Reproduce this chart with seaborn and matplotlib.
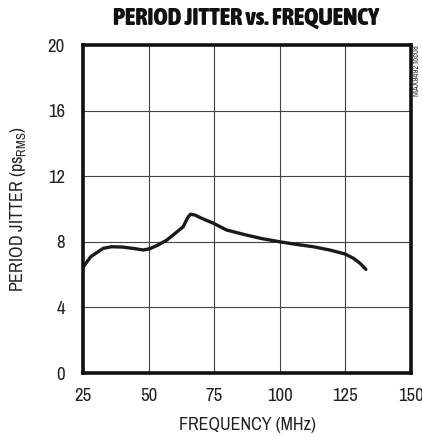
import pandas as pd
import matplotlib
matplotlib.use("Agg")
import matplotlib.pyplot as plt
from matplotlib import font_manager
import seaborn as sns

# Data
freq_mhz = [25, 28, 32.7, 35.9, 40, 44, 48, 50.5, 53.5, 56.9, 60, 63.2, 64.2, 65, 66, 67.7, 70, 74.7, 79.7, 87.3,
            93, 100, 106, 112.7, 119, 124.8, 128, 130.5, 132.8]
jitter_ps = [6.45, 7.1, 7.6, 7.7, 7.68, 7.6, 7.5, 7.58, 7.8, 8.1, 8.5, 8.92, 9.25, 9.5, 9.68, 9.63, 9.45, 9.13, 8.72, 8.41,
             8.2, 8.0, 7.85, 7.7, 7.5, 7.26, 7.0, 6.7, 6.32]

xticks = [25, 50, 75, 100, 125, 150]
yticks = [0, 4, 8, 12, 16, 20]

data = pd.DataFrame({"freq": freq_mhz, "jitter": jitter_ps})

# pick a narrow family if one is installed
fonts = font_manager.fontManager.ttflist
narrow = sorted({f.name for f in fonts if "Narrow" in f.name or "Condensed" in f.name})
families = narrow[:1] + ["Liberation Sans", "DejaVu Sans"]

# bold narrow face for the title, if any
bold_narrow = [f for f in fonts if ("Narrow" in f.name or "Condensed" in f.name)
               and (f.weight in ("bold", "heavy", "black", "extra bold") or (isinstance(f.weight, int) and f.weight >= 700))
               and f.style == "normal"]
if bold_narrow:
    title_font = font_manager.FontProperties(fname=bold_narrow[0].fname, size=17.5)
else:
    title_font = font_manager.FontProperties(family=["Liberation Sans", "DejaVu Sans"], weight="bold", size=12.5)

sns.set_style("white")
plt.rcParams["font.family"] = families
plt.rcParams["mathtext.fontset"] = "custom"
plt.rcParams["mathtext.rm"] = families[0]

fig = plt.figure(figsize=(4.22, 4.36), dpi=100)
ax = fig.add_axes([83 / 422, 63 / 436, 328 / 422, 328 / 436])

sns.lineplot(data=data, x="freq", y="jitter", ax=ax, color="#1a1a1a", linewidth=2.4, sort=False)

ax.set_xlim(25, 150)
ax.set_ylim(0, 20)
ax.set_xticks(xticks)
ax.set_yticks(yticks)
ax.grid(True, color="#444444", linewidth=0.8)
fs = 13.5 if narrow else 11
ax.tick_params(axis="y", length=0, labelsize=fs, pad=13, colors="#222222")
ax.tick_params(axis="x", length=0, labelsize=fs, pad=11, colors="#222222")
for s in ax.spines.values():
    s.set_linewidth(2.6)
    s.set_color("#111111")

ax.set_xlabel("FREQUENCY (MHz)", fontsize=fs - 0.5, color="#222222", labelpad=9)
ax.set_ylabel("PERIOD JITTER (ps$_{\\mathregular{RMS}}$)", fontsize=fs - 0.5, color="#222222", labelpad=14)

fig.text(0.583, 0.957, "PERIOD JITTER vs. FREQUENCY", ha="center", va="center",
         fontproperties=title_font, color="#111111")
fig.text(0.986, 0.897, "MAX9492 toc08", rotation=90, ha="center", va="top", fontsize=6.3, color="#333333")

fig.savefig("out.png", dpi=100)
